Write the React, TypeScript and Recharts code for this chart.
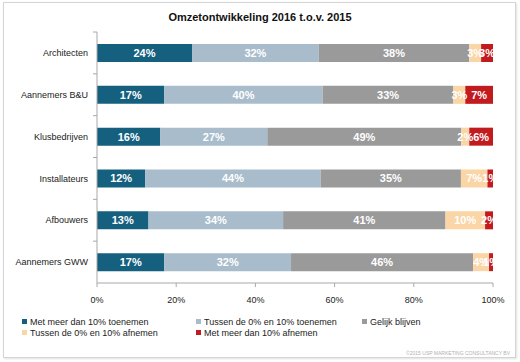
import React from 'react';
import { BarChart, Bar, XAxis, YAxis, LabelList, Legend } from 'recharts';

const categories = ['Architecten', 'Aannemers B&U', 'Klusbedrijven', 'Installateurs', 'Afbouwers', 'Aannemers GWW'];
const seriesNames = [
  'Met meer dan 10% toenemen',
  'Tussen de 0% en 10% toenemen',
  'Gelijk blijven',
  'Tussen de 0% en 10% afnemen',
  'Met meer dan 10% afnemen',
];
const strongUp = [24, 17, 16, 12.2, 13, 17];
const lightUp = [32, 40, 27, 44.3, 34, 32];
const same = [38, 33, 49, 35.4, 41, 46];
const lightDown = [3, 3, 2, 6.7, 10, 4];
const strongDown = [3, 7, 6, 1.4, 2, 1];
const xTicks = [0, 20, 40, 60, 80, 100];

const colors = ['#155f7f', '#a8bccb', '#9a9a9a', '#fad5a6', '#c21b1f'];
const keys = ['s1', 's2', 's3', 's4', 's5'];

const data = categories.map((name, i) => ({
  name,
  s1: strongUp[i],
  s2: lightUp[i],
  s3: same[i],
  s4: lightDown[i],
  s5: strongDown[i],
}));

const W = 520;
const H = 362;
const MARGIN = { top: 32, right: 27, left: 7, bottom: 49 };
const XAXIS_H = 30;
const YAXIS_W = 90;
const HALF_BAND = (H - MARGIN.top - MARGIN.bottom - XAXIS_H) / categories.length / 2;
const FONT = '"Liberation Sans", Arial, Helvetica, sans-serif';
const AXIS_COLOR = '#a8a8a8';

const CategoryTick = (props: any) => {
  const { x, y, payload } = props;
  return (
    <g>
      <line x1={x + 5} x2={x + 9} y1={y - HALF_BAND} y2={y - HALF_BAND} stroke={AXIS_COLOR} strokeWidth={1} />
      <text x={x} y={y} dy="0.35em" textAnchor="end" fontSize={9} fill="#222" fontFamily={FONT}>
        {payload.value}
      </text>
    </g>
  );
};

const LegendContent = (props: any) => {
  const items = [...(props.payload || [])].sort(
    (a: any, b: any) => seriesNames.indexOf(a.value) - seriesNames.indexOf(b.value)
  );
  const cols = [22, 196, 362];
  return (
    <div style={{ position: 'relative', width: W, height: 24, fontFamily: FONT, fontSize: 9, color: '#222' }}>
      {items.map((p: any, i: number) => {
        const row = i < 3 ? 0 : 1;
        const col = i < 3 ? i : i - 3;
        return (
          <div
            key={i}
            style={{
              position: 'absolute',
              left: cols[col],
              top: row * 11,
              height: 11,
              display: 'flex',
              alignItems: 'center',
              whiteSpace: 'nowrap',
            }}
          >
            <span style={{ display: 'inline-block', width: 5, height: 5, background: p.color, marginRight: 3 }} />
            <span>{p.value}</span>
          </div>
        );
      })}
    </div>
  );
};

const fmt = (v: any) => `${Math.round(Number(v))}%`;

export default function App() {
  return (
    <div style={{ position: 'absolute', left: 0, top: 0, width: W, height: H, background: '#ffffff', overflow: 'hidden' }}>
      <div
        style={{
          position: 'absolute',
          left: 3,
          top: 2,
          width: 511,
          height: 354,
          border: '1px solid #d4d4d4',
          boxShadow: '1px 1px 2px rgba(0,0,0,0.12)',
          background: '#fff',
        }}
      />
      <div
        style={{
          position: 'absolute',
          left: 0,
          top: 11,
          width: W,
          textAlign: 'center',
          fontFamily: FONT,
          fontWeight: 'bold',
          fontSize: 11,
          color: '#111',
        }}
      >
        Omzetontwikkeling 2016 t.o.v. 2015
      </div>
      <div style={{ position: 'absolute', left: 0, top: 0 }}>
        <BarChart width={W} height={H} data={data} layout="vertical" margin={MARGIN}>
          <XAxis
            type="number"
            domain={[0, 100]}
            ticks={xTicks}
            allowDataOverflow
            height={XAXIS_H}
            tickFormatter={(v: number) => `${v}%`}
            tick={{ fontSize: 9, fill: '#222', fontFamily: FONT }}
            tickSize={4}
            tickMargin={10}
            stroke={AXIS_COLOR}
          />
          <YAxis
            type="category"
            dataKey="name"
            width={YAXIS_W}
            tickLine={false}
            tickSize={0}
            tickMargin={9}
            stroke={AXIS_COLOR}
            tick={<CategoryTick />}
            interval={0}
          />
          <Legend
            layout="horizontal"
            verticalAlign="middle"
            align="center"
            wrapperStyle={{ position: 'absolute', left: 0, top: 316, width: W }}
            content={<LegendContent />}
          />
          {keys.map((k, i) => (
            <Bar key={k} dataKey={k} name={seriesNames[i]} stackId="a" fill={colors[i]} barSize={18} isAnimationActive={false}>
              <LabelList
                dataKey={k}
                position="center"
                formatter={fmt}
                fill="#ffffff"
                fontSize={11}
                fontWeight="bold"
                fontFamily={FONT}
              />
            </Bar>
          ))}
        </BarChart>
      </div>
      <div
        style={{
          position: 'absolute',
          right: 10,
          top: 350,
          fontFamily: FONT,
          fontSize: 5,
          color: '#b0b0b0',
          whiteSpace: 'nowrap',
        }}
      >
        ©2015 USP MARKETING CONSULTANCY BV
      </div>
    </div>
  );
}
